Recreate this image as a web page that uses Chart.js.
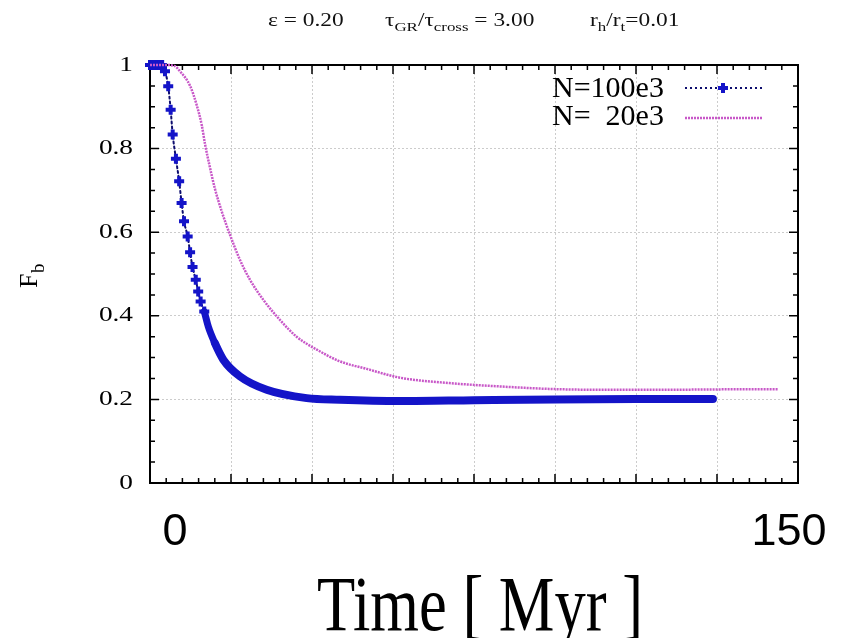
<!DOCTYPE html>
<html>
<head>
<meta charset="utf-8">
<title>Binary fraction vs time</title>
<script src="https://cdn.jsdelivr.net/npm/chart.js@4.4.0/dist/chart.umd.min.js"></script>
<style>
  html, body { margin: 0; padding: 0; background: #fff; }
  #wrap { width: 846px; height: 638px; }
</style>
</head>
<body>
<div id="wrap"><canvas id="fb-chart" width="846" height="638"></canvas></div>
<script>
// values (time in Myr, binary fraction F_b)
var timeN100 = [0, 0.6, 1.2, 1.8, 2.4, 3.0, 3.7, 4.5, 5.1, 5.6, 6.4, 7.2, 7.8, 8.4, 9.3, 9.9, 10.5, 11.3, 11.9, 12.5, 13.4, 14.4, 16.0, 18.1, 22.2, 28.8, 38.7, 46.9, 62, 80, 100, 120, 139];
var fbN100   = [1, 1, 1, 1, 1, 1, 0.985, 0.949, 0.893, 0.834, 0.776, 0.722, 0.670, 0.626, 0.590, 0.552, 0.517, 0.486, 0.458, 0.434, 0.410, 0.374, 0.335, 0.295, 0.255, 0.223, 0.203, 0.199, 0.196, 0.198, 0.200, 0.201, 0.201];

var timeN20 = [0, 2, 4, 6, 7.4, 9.9, 11.5, 12.8, 13.6, 14.8, 16.0, 17.7, 19.7, 22.2, 24.7, 28.0, 32.1, 36.2, 41.2, 46.9, 53.5, 61.7, 74, 86.4, 98.8, 111, 127.6, 142, 155];
var fbN20   = [1, 1, 1, 0.998, 0.985, 0.95, 0.905, 0.855, 0.81, 0.755, 0.705, 0.65, 0.595, 0.534, 0.486, 0.438, 0.390, 0.350, 0.319, 0.291, 0.273, 0.252, 0.239, 0.231, 0.225, 0.223, 0.223, 0.224, 0.224];

var seriesNames = ["N=100e3", "N=  20e3"];
var yTicks = [0, 0.2, 0.4, 0.6, 0.8, 1];
var xLabels = ["0", "150"];

var blue = "#1414c8";
var navy = "#0d0d6e";
var pink = "#c858c8";

function toPoints(xs, ys) {
    var out = [];
    for (var i = 0; i < xs.length; i++) out.push({x: xs[i], y: ys[i]});
    return out;
}

// draw a run of text pieces, some subscripted, stretched sideways by sx
function drawRuns(ctx, x, y, runs, size, sx) {
    ctx.save();
    ctx.translate(x, y);
    ctx.scale(sx, 1);
    ctx.textAlign = "left";
    ctx.textBaseline = "alphabetic";
    var cx = 0;
    runs.forEach(function(r) {
        var s = r.sub ? Math.round(size * 0.7) : size;
        ctx.font = s + 'px "Liberation Serif"';
        ctx.fillText(r.t, cx, r.sub ? size * 0.3 : 0);
        cx += ctx.measureText(r.t).width;
    });
    ctx.restore();
}

var decorations = {
    id: "decorations",
    beforeDatasetsDraw: function(chart) {
        var ctx = chart.ctx, a = chart.chartArea;
        var xs = chart.scales.x, ys = chart.scales.y;
        ctx.save();
        ctx.strokeStyle = "#000";
        ctx.lineWidth = 1.5;
        ctx.beginPath();
        // inward ticks on all four sides
        for (var i = 0; i <= 40; i++) {
            var v = i * 4, px = xs.getPixelForValue(v);
            var len = (i % 5 === 0) ? 9 : 5;
            ctx.moveTo(px, a.bottom); ctx.lineTo(px, a.bottom - len);
            ctx.moveTo(px, a.top); ctx.lineTo(px, a.top + len);
        }
        for (var j = 0; j <= 20; j++) {
            var py = ys.getPixelForValue(j * 0.05);
            var l2 = (j % 4 === 0) ? 9 : 5;
            ctx.moveTo(a.left, py); ctx.lineTo(a.left + l2, py);
            ctx.moveTo(a.right, py); ctx.lineTo(a.right - l2, py);
        }
        ctx.stroke();
        ctx.lineWidth = 2;
        ctx.strokeRect(a.left, a.top, a.right - a.left, a.bottom - a.top);
        ctx.restore();
    },
    afterDraw: function(chart) {
        var ctx = chart.ctx, a = chart.chartArea;
        var ys = chart.scales.y;
        ctx.save();
        ctx.fillStyle = "#111";

        // title line
        drawRuns(ctx, 268, 26, [{t: "\u03b5 = 0.20"}], 18, 1.3);
        drawRuns(ctx, 385, 26, [{t: "\u03c4"}, {t: "GR", sub: true}, {t: "/\u03c4"}, {t: "cross", sub: true}, {t: " = 3.00"}], 18, 1.3);
        drawRuns(ctx, 590, 26, [{t: "r"}, {t: "h", sub: true}, {t: "/r"}, {t: "t", sub: true}, {t: "=0.01"}], 18, 1.3);

        // y tick labels
        ctx.fillStyle = "#000";
        yTicks.forEach(function(v) {
            var lab = (v === 0 || v === 1) ? String(v) : v.toFixed(1);
            ctx.save();
            ctx.translate(a.left - 17, ys.getPixelForValue(v));
            ctx.scale(1.3, 1);
            ctx.font = '21px "Liberation Serif"';
            ctx.textAlign = "right";
            ctx.textBaseline = "middle";
            ctx.fillText(lab, 0, 0);
            ctx.restore();
        });

        // y axis title F_b
        ctx.save();
        ctx.translate(37, 288);
        ctx.rotate(-Math.PI / 2);
        ctx.textAlign = "left";
        ctx.textBaseline = "alphabetic";
        ctx.font = '26px "Liberation Serif"';
        ctx.fillText("F", 0, 0);
        ctx.font = '19px "Liberation Serif"';
        ctx.fillText("b", 15, 7);
        ctx.restore();

        // x labels and axis title
        ctx.font = '45px "Liberation Sans"';
        ctx.textAlign = "center";
        ctx.textBaseline = "alphabetic";
        ctx.fillText(xLabels[0], a.left + 25, 545);
        ctx.fillText(xLabels[1], a.right - 9, 545);
        ctx.font = '78px "Liberation Serif"';
        ctx.fillText("Time [ Myr ]", 480, 630, 326);

        // legend
        ctx.font = '30px "Liberation Serif"';
        ctx.textAlign = "left";
        ctx.fillText(seriesNames[0], 552, 97);
        ctx.fillText(seriesNames[1], 552, 125);
        ctx.lineWidth = 2;
        ctx.strokeStyle = navy;
        ctx.setLineDash([2, 3]);
        ctx.beginPath(); ctx.moveTo(685, 88); ctx.lineTo(762, 88); ctx.stroke();
        ctx.strokeStyle = pink;
        ctx.lineWidth = 2.5;
        ctx.setLineDash([2, 1]);
        ctx.beginPath(); ctx.moveTo(685, 118); ctx.lineTo(762, 118); ctx.stroke();
        ctx.setLineDash([]);
        ctx.strokeStyle = blue;
        ctx.lineWidth = 4;
        ctx.beginPath();
        ctx.moveTo(718, 88); ctx.lineTo(728, 88);
        ctx.moveTo(723, 83); ctx.lineTo(723, 93);
        ctx.stroke();
        ctx.restore();
    }
};

// from here on the dense markers merge into one thick band
function bandWidth(x) {
    if (x >= 16) return 8;
    if (x >= 13) return 7;
    return 2;
}

var chart = new Chart(document.getElementById("fb-chart"), {
    type: "line",
    data: {
        datasets: [
            {
                label: seriesNames[1],
                data: toPoints(timeN20, fbN20),
                borderColor: pink,
                borderWidth: 2.5,
                borderDash: [2, 1],
                pointRadius: 0,
                cubicInterpolationMode: "monotone",
                clip: false
            },
            {
                label: seriesNames[0],
                data: toPoints(timeN100, fbN100),
                borderColor: navy,
                borderWidth: 2,
                borderCapStyle: "round",
                borderJoinStyle: "round",
                pointStyle: "cross",
                pointRadius: function(c) { return c.raw && c.raw.x <= 13.4 ? 5 : 0; },
                pointBorderWidth: 4,
                pointBorderColor: blue,
                pointBackgroundColor: blue,
                cubicInterpolationMode: "monotone",
                clip: false,
                segment: {
                    borderWidth: function(c) { return bandWidth(c.p0.parsed.x); },
                    borderDash: function(c) { return c.p0.parsed.x >= 13 ? [] : [2, 3]; },
                    borderColor: function(c) { return c.p0.parsed.x >= 13 ? blue : navy; }
                }
            }
        ]
    },
    options: {
        responsive: false,
        animation: false,
        layout: { padding: { left: 150, right: 48, top: 65, bottom: 155 } },
        plugins: {
            legend: { display: false },
            title: { display: false },
            tooltip: { enabled: false }
        },
        scales: {
            x: {
                type: "linear",
                min: 0,
                max: 160,
                ticks: { display: false, stepSize: 20 },
                border: { display: false, dash: [2, 2] },
                grid: {
                    drawTicks: false,
                    color: "#cccccc",
                    lineWidth: 1
                },
                afterFit: function(s) { s.height = 0; }
            },
            y: {
                min: 0,
                max: 1,
                ticks: { display: false, stepSize: 0.2 },
                border: { display: false, dash: [2, 2] },
                grid: {
                    drawTicks: false,
                    color: "#cccccc",
                    lineWidth: 1
                },
                afterFit: function(s) { s.width = 0; }
            }
        }
    },
    plugins: [decorations]
});
</script>
</body>
</html>
